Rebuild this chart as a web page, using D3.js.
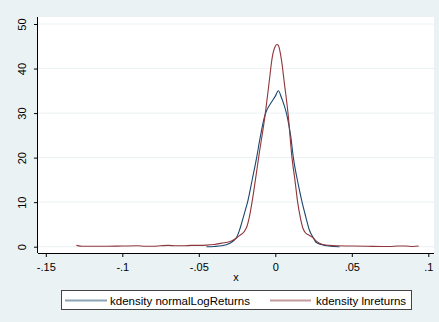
<!DOCTYPE html>
<html><head><meta charset="utf-8">
<script src="https://cdn.jsdelivr.net/npm/d3@7"></script>
<style>body{margin:0;background:#fff}svg{display:block}</style>
</head><body>
<script>
// x ticks and y ticks
const xTicks = [-0.15, -0.1, -0.05, 0, 0.05, 0.1];
const xTickLabels = ["-.15", "-.1", "-.05", "0", ".05", ".1"];
const yTicks = [0, 10, 20, 30, 40, 50];
const seriesNames = ["kdensity normalLogReturns", "kdensity lnreturns"];

// kdensity normalLogReturns
const normX = [-0.045,-0.04,-0.035,-0.03,-0.027,-0.025,-0.0235,-0.022,-0.02,-0.018,-0.015,-0.0122,-0.01,-0.0072,-0.006,-0.0028,0.0,0.002,0.004,0.006,0.0076,0.01,0.0118,0.015,0.0175,0.02,0.0222,0.025,0.0266,0.03,0.035,0.042];
const normY = [0.0,0.05,0.2,0.7,1.4,2.3,3.6,5.3,7.7,10.2,15.2,20,24.3,29,30.3,32.3,33.8,35.0,33.5,31.5,29.5,25,20,14,10,6.6,3.8,1.9,1.0,0.5,0.15,0.0];

// kdensity lnreturns
const lnX = [-0.13,-0.126,-0.12,-0.11,-0.1,-0.09,-0.085,-0.08,-0.075,-0.07,-0.065,-0.06,-0.055,-0.05,-0.045,-0.04,-0.035,-0.03,-0.028,-0.0255,-0.023,-0.0205,-0.0185,-0.017,-0.0152,-0.013,-0.0109,-0.0065,-0.004,-0.002,0.0,0.0011,0.002,0.004,0.006,0.0083,0.0109,0.013,0.0146,0.0165,0.018,0.0195,0.022,0.0244,0.027,0.03,0.035,0.04,0.05,0.06,0.07,0.075,0.08,0.085,0.09,0.0937];
const lnY = [0.3,0.1,0.1,0.1,0.15,0.2,0.1,0.1,0.2,0.3,0.2,0.2,0.3,0.3,0.35,0.5,0.8,1.1,1.4,1.9,2.6,3.3,4.6,6.6,10,15,20,30,37,42.5,45,45.4,45.2,42,36.5,30,20,14.5,10,6.3,4.2,3.2,2.6,2.1,1.2,0.6,0.3,0.2,0.15,0.1,0.05,0.05,0.15,0.15,0.05,0.15];

const colors = ["#1a476f", "#90353b"];
const W = 439, H = 322;
const svg = d3.select("body").append("svg").attr("width", W).attr("height", H)
  .style("font-family", "Arial, 'Liberation Sans', sans-serif");
svg.append("rect").attr("width", W).attr("height", H).attr("fill", "#eaf2f3");

const x = d3.scaleLinear().domain([-0.15, 0.1]).range([45.8, 428.3]);
const y = d3.scaleLinear().domain([0, 50]).range([246.7, 24]);

const plotL = 38, plotR = 434, plotT = 17, plotB = 253;
svg.append("rect").attr("x", plotL).attr("y", plotT).attr("width", plotR - plotL).attr("height", plotB - plotT).attr("fill", "#fff");

// gridlines
svg.append("g").selectAll("line").data(yTicks).join("line")
  .attr("x1", plotL).attr("x2", plotR)
  .attr("y1", d => y(d)).attr("y2", d => y(d))
  .attr("stroke", "#eaf2f3").attr("stroke-width", 1);

// lines
const line = d3.line().curve(d3.curveMonotoneX);
const series = [
  normX.map((v, i) => [x(v), y(normY[i])]),
  lnX.map((v, i) => [x(v), y(lnY[i])])
];
series.forEach((s, i) => {
  svg.append("path").attr("d", line(s)).attr("fill", "none")
    .attr("stroke", colors[i]).attr("stroke-width", 1.1);
});

// axes
const xAxis = d3.axisBottom(x).tickValues(xTicks).tickFormat((d, i) => xTickLabels[i]).tickSize(4).tickPadding(6);
const gx = svg.append("g").attr("transform", `translate(0,${plotB})`).call(xAxis);
gx.select(".domain").attr("d", `M${plotL},0.5H${plotR}`).attr("stroke", "#000");
gx.selectAll(".tick line").attr("stroke", "#000");
gx.selectAll("text").attr("font-size", 11).attr("fill", "#000").attr("font-family", "Arial, 'Liberation Sans', sans-serif");

const yAxis = d3.axisLeft(y).tickValues(yTicks).tickSize(4).tickPadding(0).tickFormat(d3.format("d"));
const gy = svg.append("g").attr("transform", `translate(${plotL},0)`).call(yAxis);
gy.select(".domain").attr("d", `M-0.5,${plotT}V${plotB}`).attr("stroke", "#000");
gy.selectAll(".tick line").attr("stroke", "#000");
gy.selectAll("text").attr("font-size", 11).attr("fill", "#000")
  .attr("font-family", "Arial, 'Liberation Sans', sans-serif")
  .attr("x", 0).attr("dy", 0)
  .attr("text-anchor", "middle")
  .attr("transform", "translate(-12,0) rotate(-90)")
  .attr("y", 0);

// x axis title
svg.append("text").attr("x", (plotL + plotR) / 2).attr("y", 281)
  .attr("text-anchor", "middle").attr("font-size", 11).text("x");

// legend
const lg = svg.append("g");
lg.append("rect").attr("x", 61.5).attr("y", 290.5).attr("width", 350).attr("height", 19)
  .attr("fill", "#fff").attr("stroke", "#444").attr("stroke-width", 1);
const legItems = [{x1: 65, x2: 107, tx: 110}, {x1: 270, x2: 311, tx: 316}];
legItems.forEach((it, i) => {
  lg.append("line").attr("x1", it.x1).attr("x2", it.x2).attr("y1", 300.5).attr("y2", 300.5)
    .attr("stroke", colors[i]).attr("stroke-width", 2).attr("stroke-opacity", 0.5);
  lg.append("text").attr("x", it.tx).attr("y", 304.5).attr("font-size", 11.5).text(seriesNames[i]);
});
</script>
</body></html>
